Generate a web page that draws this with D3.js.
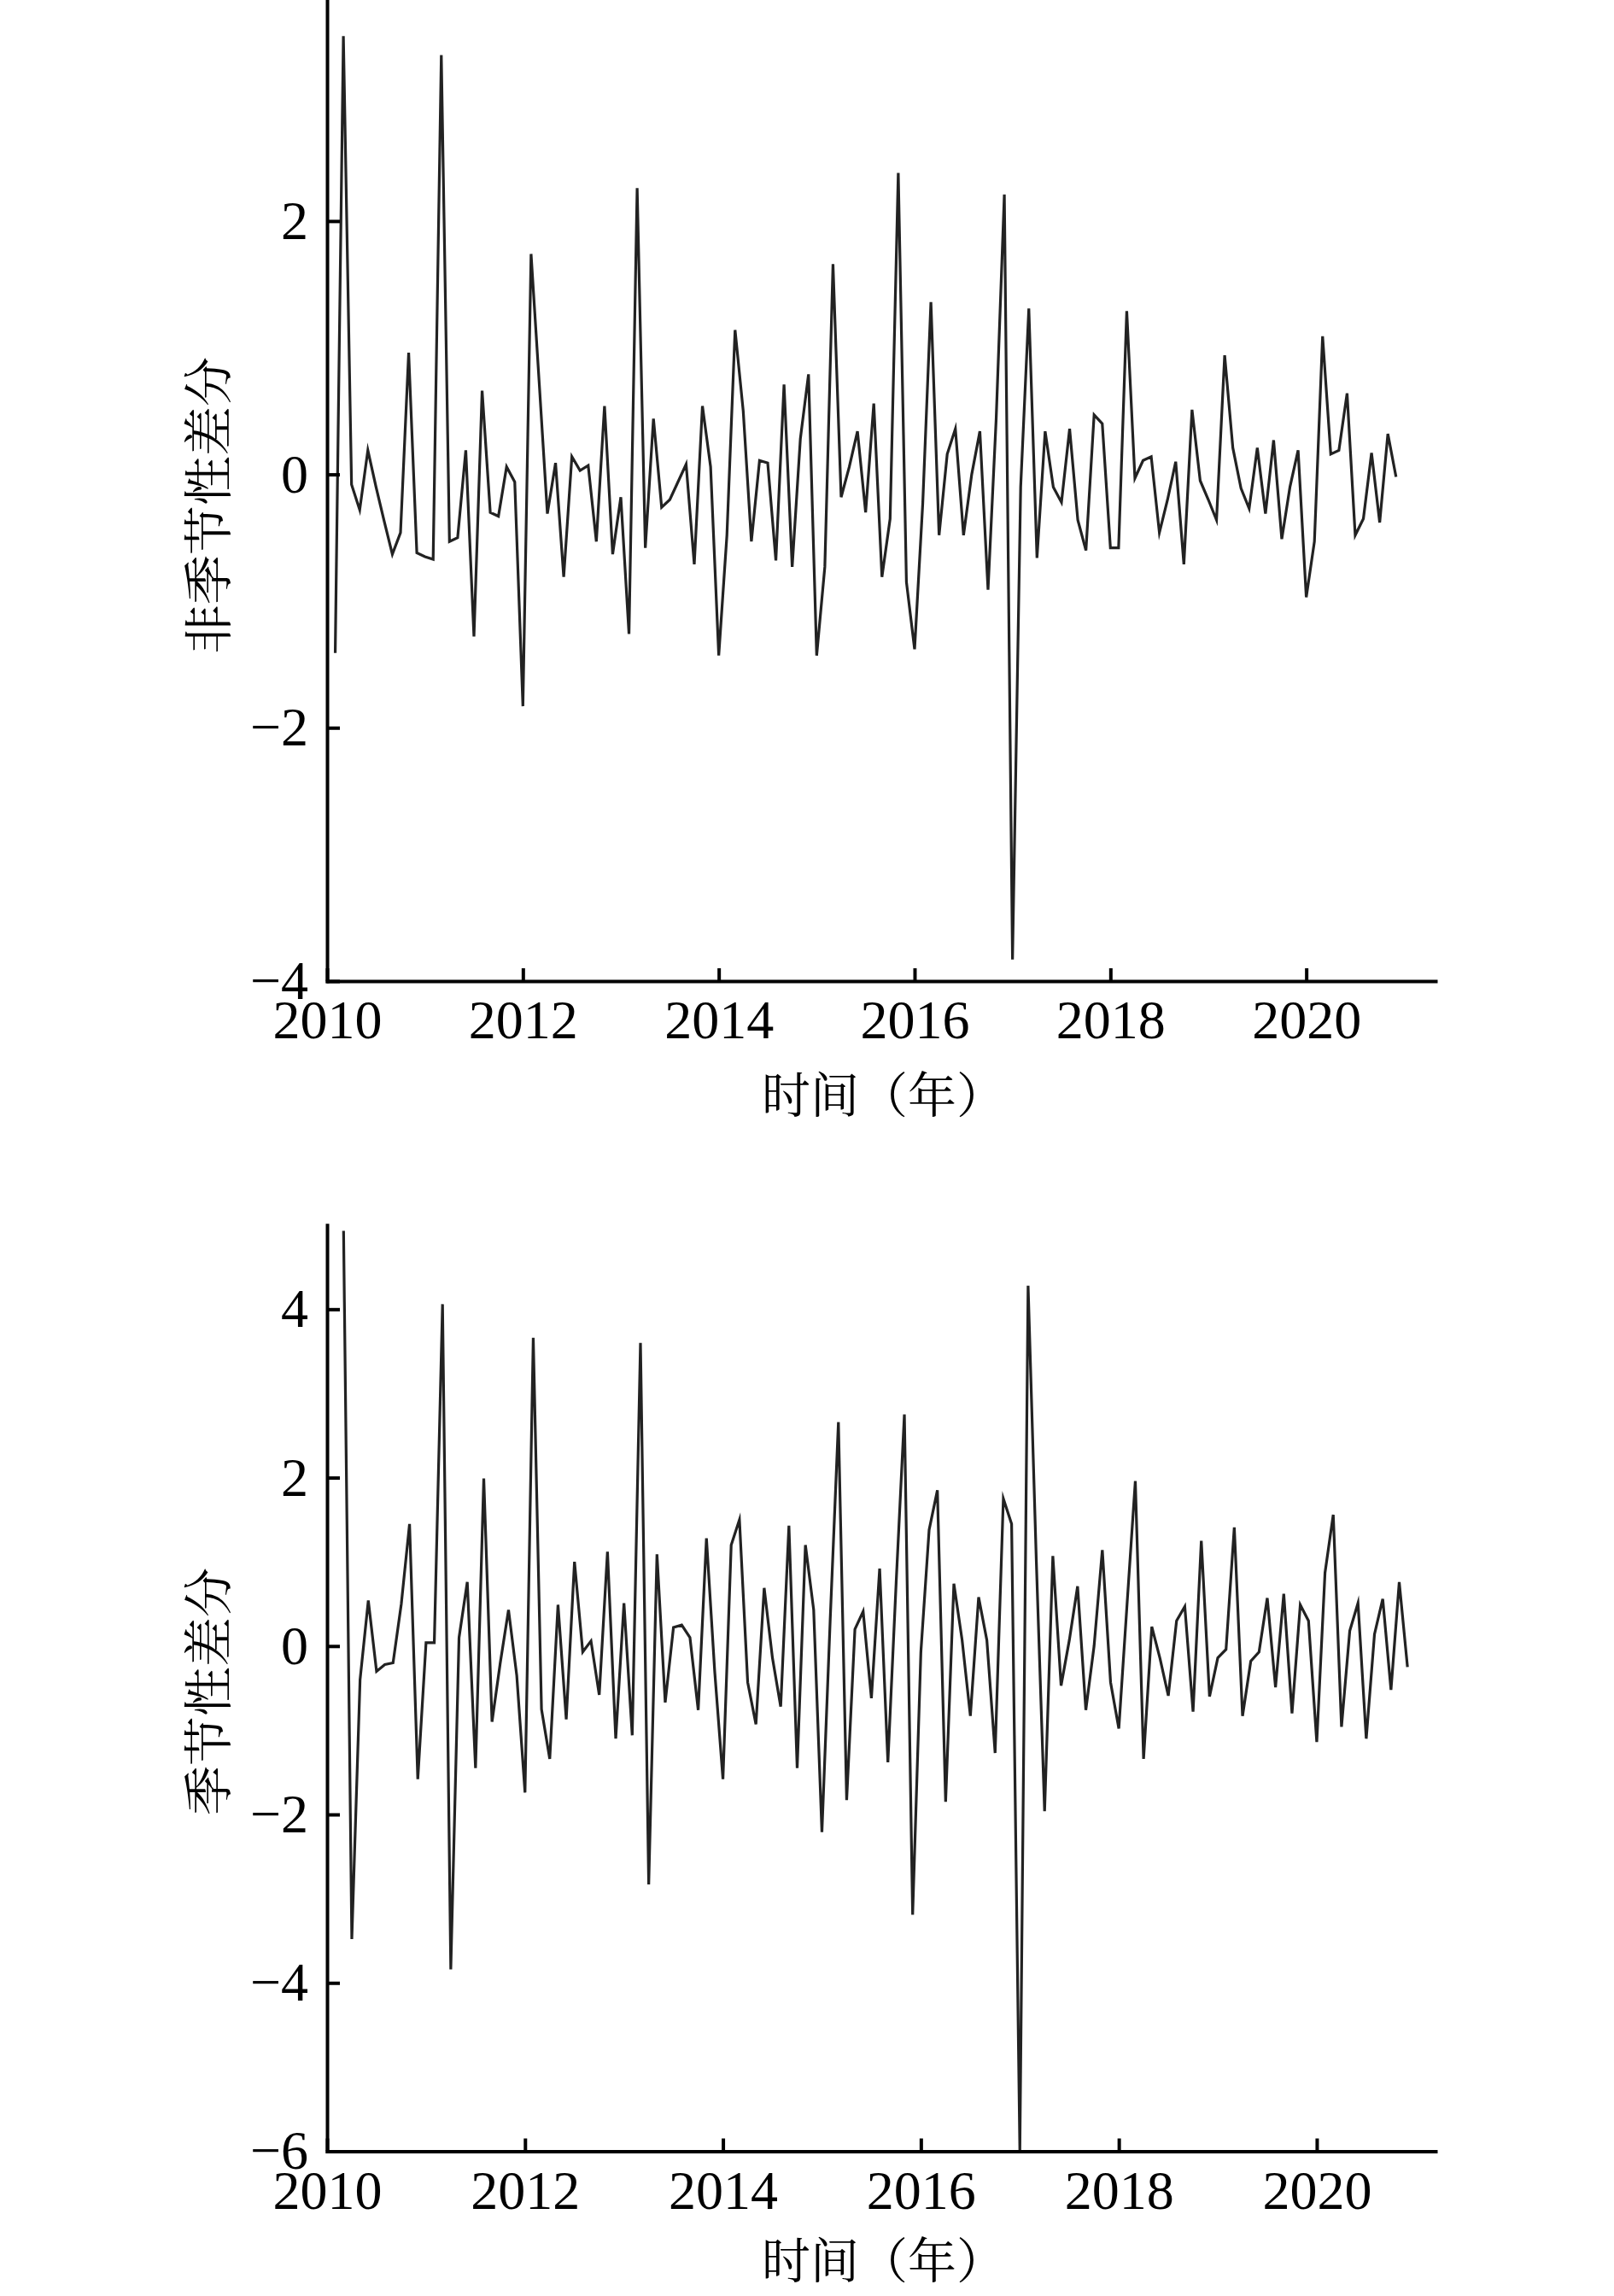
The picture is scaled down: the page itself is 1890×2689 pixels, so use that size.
<!DOCTYPE html>
<html>
<head>
<meta charset="utf-8">
<script src="https://cdn.jsdelivr.net/npm/d3@7"></script>
<style>
  html, body { margin: 0; padding: 0; background: #ffffff; }
  svg { display: block; }
</style>
</head>
<body>
<svg id="chart" width="1890" height="2689"></svg>
<script>
// ---------------- DATA ----------------
// Monthly values; first top value is Feb 2010, first bottom value is Mar 2010.
const topStartMonth = 1;      // months after Jan 2010
const bottomStartMonth = 2;

const nonSeasonalDiff = [
  -1.41, 3.46, -0.08, -0.28, 0.19, -0.10, -0.37, -0.63, -0.46, 0.96,
  -0.62, -0.65, -0.67, 3.31, -0.53, -0.50, 0.19, -1.28, 0.66, -0.30,
  -0.33, 0.06, -0.06, -1.83, 1.74, 0.72, -0.31, 0.09, -0.81, 0.14,
  0.03, 0.07, -0.53, 0.54, -0.63, -0.18, -1.26, 2.26, -0.58, 0.44,
  -0.26, -0.20, -0.06, 0.08, -0.71, 0.54, 0.06, -1.43, -0.48, 1.14,
  0.50, -0.53, 0.11, 0.09, -0.68, 0.71, -0.73, 0.28, 0.79, -1.43,
  -0.73, 1.66, -0.18, 0.06, 0.34, -0.30, 0.56, -0.81, -0.35, 2.38,
  -0.85, -1.38, -0.23, 1.36, -0.48, 0.16, 0.36, -0.48, 0.00, 0.34,
  -0.91, 0.44, 2.21, -3.83, -0.10, 1.31, -0.66, 0.34, -0.10, -0.22,
  0.36, -0.36, -0.60, 0.47, 0.40, -0.58, -0.58, 1.29, -0.03, 0.11,
  0.14, -0.46, -0.20, 0.10, -0.71, 0.51, -0.05, -0.20, -0.36, 0.94,
  0.21, -0.11, -0.27, 0.21, -0.31, 0.27, -0.51, -0.10, 0.19, -0.97,
  -0.53, 1.09, 0.16, 0.19, 0.64, -0.48, -0.35, 0.17, -0.38, 0.32,
  -0.02
];

const seasonalDiff = [
  4.93, -3.48, -0.40, 0.54, -0.30, -0.22, -0.20, 0.50, 1.45, -1.58,
  0.04, 0.04, 4.06, -3.84, 0.10, 0.76, -1.45, 1.99, -0.90, -0.20,
  0.43, -0.35, -1.74, 3.66, -0.75, -1.34, 0.49, -0.87, 1.00, -0.07,
  0.06, -0.58, 1.12, -1.10, 0.51, -1.06, 3.60, -2.83, 1.09, -0.67,
  0.22, 0.25, 0.10, -0.76, 1.28, -0.30, -1.58, 1.20, 1.50, -0.43,
  -0.93, 0.69, -0.14, -0.72, 1.43, -1.45, 1.20, 0.43, -2.21, 0.30,
  2.66, -1.83, 0.20, 0.41, -0.62, 0.92, -1.38, 0.75, 2.75, -3.19,
  -0.07, 1.38, 1.85, -1.85, 0.74, 0.07, -0.83, 0.58, 0.07, -1.27,
  1.75, 1.45, -6.00, 4.28, 1.00, -1.96, 1.07, -0.47, 0.07, 0.71,
  -0.76, 0.00, 1.14, -0.43, -0.98, 0.50, 1.96, -1.34, 0.23, -0.15,
  -0.59, 0.30, 0.47, -0.78, 1.25, -0.60, -0.14, -0.04, 1.41, -0.83,
  -0.18, -0.07, 0.57, -0.49, 0.62, -0.80, 0.49, 0.30, -1.14, 0.87,
  1.56, -0.96, 0.18, 0.51, -1.10, 0.14, 0.56, -0.52, 0.76, -0.25
];

const xTickYears = [2010, 2012, 2014, 2016, 2018, 2020];
const topYTicks = [-4, -2, 0, 2];
const bottomYTicks = [-6, -4, -2, 0, 2, 4];
const topYLabel = "非季节性差分";
const bottomYLabel = "季节性差分";
const xAxisLabel = "时间（年）";

// ---------------- LAYOUT ----------------
const svg = d3.select("#chart");
const serif = "'Liberation Serif', 'Times New Roman', serif";
const cjk = "'Noto Serif CJK SC', 'Noto Sans CJK SC', 'Noto Sans CJK JP', sans-serif";
const fmt = v => (v < 0 ? "\u2212" + Math.abs(v) : String(v));

function drawPanel(cfg) {
  const g = svg.append("g");
  const x = d3.scaleLinear().domain(cfg.xDomain).range([cfg.left, cfg.right]);
  const y = d3.scaleLinear().domain(cfg.yDomain).range([cfg.bottom, cfg.top]);

  const pts = cfg.values.map((v, i) => ({ t: 2010 + (i + cfg.start) / 12, v }));

  // line
  g.append("path")
    .datum(pts)
    .attr("fill", "none")
    .attr("stroke", "#222222")
    .attr("stroke-width", 3.2)
    .attr("stroke-linejoin", "miter")
    .attr("stroke-miterlimit", 6)
    .attr("d", d3.line().x(d => x(d.t)).y(d => y(d.v)));

  // y axis
  const yAxis = d3.axisLeft(y)
    .tickValues(cfg.yTicks)
    .tickFormat(fmt)
    .tickSizeInner(-15)
    .tickSizeOuter(0)
    .tickPadding(22);
  const ya = g.append("g").attr("transform", `translate(${cfg.left},0)`).call(yAxis);

  // x axis
  const xAxis = d3.axisBottom(x)
    .tickValues(xTickYears)
    .tickFormat(d3.format("d"))
    .tickSizeInner(-15)
    .tickSizeOuter(0)
    .tickPadding(22);
  const xa = g.append("g").attr("transform", `translate(0,${cfg.bottom})`).call(xAxis);

  [ya, xa].forEach(a => {
    a.select(".domain").attr("stroke", "#000").attr("stroke-width", 4).attr("stroke-linecap", "square");
    a.selectAll(".tick line").attr("stroke", "#000").attr("stroke-width", 4);
    a.selectAll(".tick text")
      .attr("fill", "#000")
      .style("font-family", serif)
      .style("font-size", "64px");
  });

  // axis titles
  g.append("text")
    .attr("transform", `translate(${cfg.yLabelX},${cfg.yLabelY}) rotate(-90)`)
    .attr("text-anchor", "middle")
    .attr("dominant-baseline", "central")
    .style("font-family", cjk)
    .style("font-size", "58px")
    .attr("fill", "#000")
    .text(cfg.yLabel);

  g.append("text")
    .attr("x", cfg.xLabelX)
    .attr("y", cfg.xLabelY)
    .attr("text-anchor", "start")
    .attr("dominant-baseline", "central")
    .style("font-family", cjk)
    .style("font-size", "57px")
    .attr("fill", "#000")
    .text(xAxisLabel);
}

drawPanel({
  values: nonSeasonalDiff, start: topStartMonth,
  xDomain: [2010, 2021.32], yDomain: [-4, 3.745],
  left: 383, right: 1681, top: 0, bottom: 1149,
  yTicks: topYTicks, yLabel: topYLabel,
  yLabelX: 240, yLabelY: 592,
  xLabelX: 892, xLabelY: 1278
});

drawPanel({
  values: seasonalDiff, start: bottomStartMonth,
  xDomain: [2010, 2021.2], yDomain: [-6, 5.0],
  left: 383, right: 1681, top: 1434.7, bottom: 2519.5,
  yTicks: bottomYTicks, yLabel: bottomYLabel,
  yLabelX: 240, yLabelY: 1981,
  xLabelX: 892, xLabelY: 2643
});
</script>
</body>
</html>
